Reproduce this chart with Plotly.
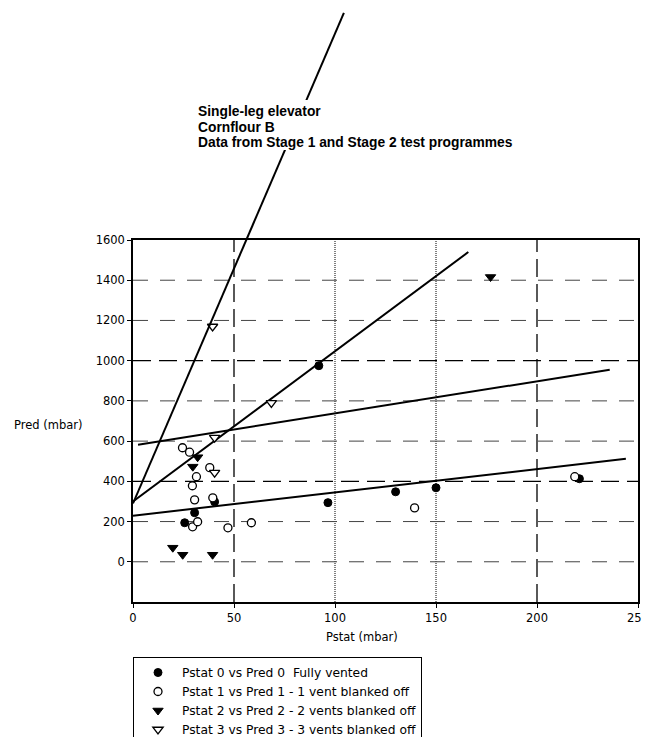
import plotly.graph_objects as go

# ---- data ----
x0 = [25.6, 30.5, 40.4, 92, 96.5, 130, 150, 221]
y0 = [194, 244, 298, 975, 294, 348, 368, 413]

x1 = [24.5, 28, 31.4, 29.4, 30.5, 38, 39.5, 29.5, 32, 47, 58.6, 139.4, 218.7]
y1 = [567, 545, 423, 378, 308, 468, 318, 174, 199, 169, 194, 268, 423]

x2 = [19.7, 24.6, 39.4, 29.6, 32, 177]
y2 = [70, 35, 35, 473, 520, 1416]

x3 = [39.4, 68.5, 40.4, 40.4]
y3 = [1170, 790, 617, 443]

fit0_x = [0, 244]
fit0_y = [229, 512]
fit1_x = [2.5, 236]
fit1_y = [582, 955]
fit2_x = [0, 166]
fit2_y = [300, 1540]
fit3_x = [0, 104.4]
fit3_y = [290, 2729]

names = [
    "Pstat 0 vs Pred 0  Fully vented",
    "Pstat 1 vs Pred 1 - 1 vent blanked off",
    "Pstat 2 vs Pred 2 - 2 vents blanked off",
    "Pstat 3 vs Pred 3 - 3 vents blanked off",
]

x_ticks = [0, 50, 100, 150, 200, 250]
y_ticks = [0, 200, 400, 600, 800, 1000, 1200, 1400, 1600]
x_grid_long = [50, 200]
x_grid_dot = [100, 150]
y_grid_long = [400, 1000]
y_grid_dot = [0, 200, 600, 800, 1200, 1400]

title_lines = ["Single-leg elevator", "Cornflour B",
               "Data from Stage 1 and Stage 2 test programmes"]

# ---- layout geometry (page pixels; page body has an 8px margin) ----
OFF = 8
W, H = 650 - OFF, 737 - OFF
P_LEFT, P_RIGHT, P_TOP, P_BOTTOM = 133, 638, 240, 602   # main plot, page px
ML = P_LEFT - OFF
MR = W - (P_RIGHT - OFF)
MT = 0
MB = H - (P_BOTTOM - OFF)
PW = W - ML - MR
PH = H - MT - MB
main_h = P_BOTTOM - P_TOP
dom_top = main_h / PH
YMIN, YMAX = -200, 1600
y2max = YMIN + (YMAX - YMIN) * PH / main_h


def px(xp):  # page x -> paper x
    return (xp - OFF - ML) / PW


def py(yp):  # page y -> paper y
    return 1 - (yp - OFF - MT) / PH


FONT = "Liberation Sans, Arial, sans-serif"
FONT2 = "DejaVu Sans, Verdana, sans-serif"

fig = go.Figure()

line_style = dict(color="black", width=2)
for fx, fy in [(fit0_x, fit0_y), (fit1_x, fit1_y), (fit2_x, fit2_y)]:
    fig.add_trace(go.Scatter(x=fx, y=fy, mode="lines", line=line_style,
                             showlegend=False, hoverinfo="skip"))
fig.add_trace(go.Scatter(x=fit3_x, y=fit3_y, mode="lines", line=line_style,
                         xaxis="x2", yaxis="y2", showlegend=False,
                         hoverinfo="skip"))

mk = 8
fig.add_trace(go.Scatter(x=x0, y=y0, mode="markers", name=names[0],
                         marker=dict(symbol="circle", size=mk, color="black",
                                     line=dict(color="black", width=1))))
fig.add_trace(go.Scatter(x=x1, y=y1, mode="markers", name=names[1],
                         marker=dict(symbol="circle", size=mk, color="white",
                                     line=dict(color="black", width=1.3))))
fig.add_trace(go.Scatter(x=x2, y=y2, mode="markers", name=names[2],
                         marker=dict(symbol="triangle-down", size=mk + 1,
                                     color="black",
                                     line=dict(color="black", width=1))))
fig.add_trace(go.Scatter(x=x3, y=y3, mode="markers", name=names[3],
                         marker=dict(symbol="triangle-down", size=mk + 1,
                                     color="white",
                                     line=dict(color="black", width=1.3))))

shapes = []
for gx in x_grid_long:
    shapes.append(dict(type="line", xref="x", yref="y", x0=gx, x1=gx,
                       y0=YMIN, y1=YMAX, layer="below",
                       line=dict(color="black", width=1.3, dash="18px,7px")))
for gx in x_grid_dot:
    shapes.append(dict(type="line", xref="x", yref="y", x0=gx, x1=gx,
                       y0=YMIN, y1=YMAX, layer="below",
                       line=dict(color="black", width=1, dash="1px,1px")))
for gy in y_grid_long:
    shapes.append(dict(type="line", xref="x", yref="y", x0=0, x1=250,
                       y0=gy, y1=gy, layer="below",
                       line=dict(color="black", width=1.3, dash="18px,8px")))
for gy in y_grid_dot:
    shapes.append(dict(type="line", xref="x", yref="y", x0=0, x1=250,
                       y0=gy, y1=gy, layer="below",
                       line=dict(color="#444", width=1, dash="15px,12px")))
# white mask behind the title block (interrupts the steep line as in the source)
shapes.append(dict(type="rect", xref="paper", yref="paper",
                   x0=px(194), x1=px(522), y0=py(150), y1=py(100),
                   fillcolor="white", line=dict(width=0), layer="above"))

# one annotation; base size sets the line pitch, span sets glyph size
title_html = "<br>".join(
    "<span style='font-size:13.8px'>%s</span>" % t for t in title_lines)

annotations = [
    dict(text=title_html, xref="paper", yref="paper",
         x=px(196), y=py(126.5),
         xanchor="left", yanchor="middle", align="left", showarrow=False,
         font=dict(family=FONT, size=12.1, color="black", weight="bold")),
    dict(text="Pred (mbar)", xref="paper", yref="paper",
         x=px(48), y=py(425),
         xanchor="center", yanchor="middle", showarrow=False,
         font=dict(family=FONT2, size=11.5, color="black")),
    dict(text="Pstat (mbar)", xref="paper", yref="paper",
         x=px(362), y=py(637),
         xanchor="center", yanchor="middle", showarrow=False,
         font=dict(family=FONT2, size=11.5, color="black")),
]

fig.update_layout(
    width=W, height=H,
    margin=dict(l=ML, r=MR, t=MT, b=MB, autoexpand=False),
    paper_bgcolor="white",
    plot_bgcolor="rgba(0,0,0,0)",
    font=dict(family=FONT2, size=11, color="black"),
    showlegend=True,
    legend=dict(x=px(133), y=py(657), xanchor="left", yanchor="top",
                bordercolor="black", borderwidth=1, bgcolor="white",
                font=dict(family=FONT2, size=12.3, color="black"),
                itemwidth=38),
    xaxis=dict(domain=[0, 1], range=[0, 250], tickvals=x_ticks,
               showgrid=False, zeroline=False, showline=True, mirror=True,
               linecolor="black", linewidth=1.5, ticks="outside", ticklen=4,
               tickcolor="black", anchor="y",
               tickfont=dict(family=FONT2, size=11.5, color="black")),
    yaxis=dict(domain=[0, dom_top], range=[YMIN, YMAX], tickvals=y_ticks,
               showgrid=False, zeroline=False, showline=True, mirror=True,
               linecolor="black", linewidth=1.5, ticks="outside", ticklen=4,
               tickcolor="black", anchor="x",
               tickfont=dict(family=FONT2, size=11.5, color="black")),
    xaxis2=dict(domain=[0, 1], range=[0, 250], visible=False, anchor="y2",
                showgrid=False, zeroline=False),
    yaxis2=dict(domain=[0, 1], range=[YMIN, y2max], visible=False,
                anchor="x2", showgrid=False, zeroline=False),
    shapes=shapes,
    annotations=annotations,
)

fig.write_html("out.html")
